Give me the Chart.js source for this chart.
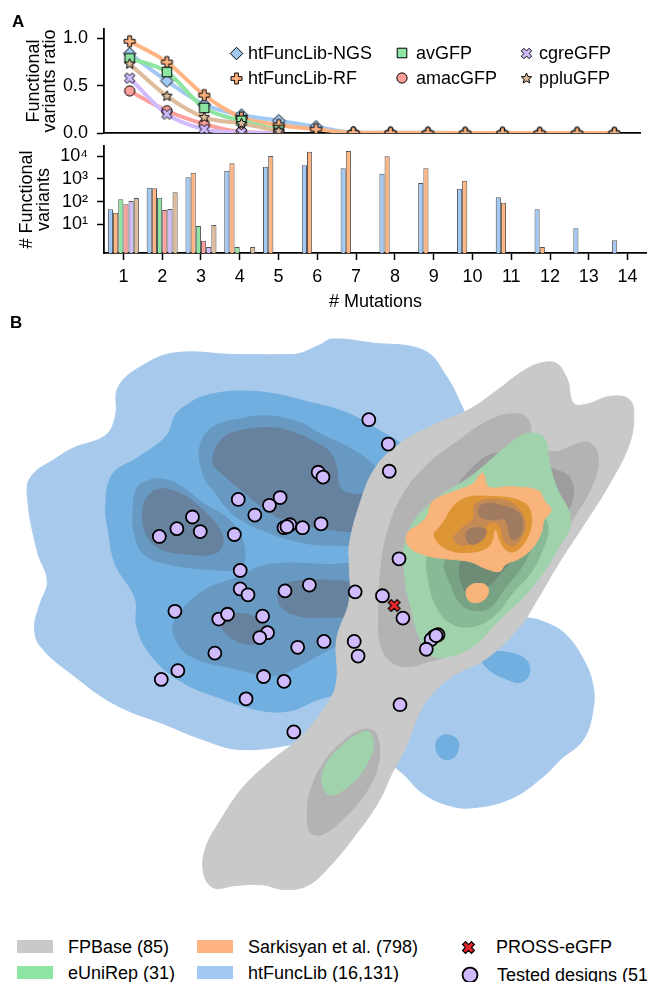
<!DOCTYPE html>
<html>
<head>
<meta charset="utf-8">
<script src="https://cdn.jsdelivr.net/npm/chart.js@4.4.1/dist/chart.umd.min.js"></script>
<style>
  body { margin: 0; background: #fff; }
  #page { position: relative; width: 647px; height: 982px; overflow: hidden;
          font-family: "Liberation Sans", Arial, Helvetica, sans-serif; color: #000; }
  #page canvas { position: absolute; left: 0; }
  .lbl { position: absolute; white-space: nowrap; font-size: 18px; line-height: 18px; }
  .panel { font-weight: bold; font-size: 17px; line-height: 17px; }
  .swatch { position: absolute; width: 36px; height: 13px; }
</style>
</head>
<body>
<div id="page">
  <canvas id="ratioChart" width="647" height="140" style="top:0"></canvas>
  <canvas id="countChart" width="647" height="175" style="top:140px"></canvas>
  <canvas id="mapChart" width="647" height="605" style="top:320px"></canvas>
</div>
<script>
/* ================= DATA: panel A ================= */

const mutations = [1, 2, 3, 4, 5, 6, 7, 8, 9, 10, 11, 12, 13, 14];
const ratioTicks = [0, 0.5, 1.0];
const countTicks = [10, 100, 1000, 10000];

// functional variants ratio per number of mutations
const ratioNGS  = [0.84, 0.55, 0.30, 0.19, 0.13, 0.066, 0.006, 0.003, 0.002, 0.001, 0.001, 0.0005, 0.0002, 0.0001];
const ratioRF   = [0.97, 0.75, 0.40, 0.165, 0.085, 0.04, 0.004, 0.002, 0.001, 0.0005, 0.0002, 0.0001, 0, 0];
const ratioAv   = [0.79, 0.645, 0.265, 0.13, 0.03];
const ratioAmac = [0.445, 0.235, 0.095, 0.01, 0];
const ratioCgre = [0.58, 0.20, 0.04, 0.005, 0];
const ratioPplu = [0.73, 0.39, 0.165, 0.10, 0.02];

// number of functional variants per number of mutations
const countNGS  = [46, 414, 1186, 2320, 3470, 4000, 2960, 1710, 665, 373, 156, 46, 6.7, 2];
const countRF   = [33, 389, 1897, 4900, 10300, 15900, 17000, 10000, 2960, 841, 90, 1, null, null];
const countAv   = [128, 150, 8.5, 1, null, null, null, null, null, null, null, null, null, null];
const countAmac = [77, 43, 1.9, null, null, null, null, null, null, null, null, null, null, null];
const countCgre = [107, 48, 1, null, null, null, null, null, null, null, null, null, null, null];
const countPplu = [145, 258, 9.4, 1, null, null, null, null, null, null, null, null, null, null];

/* ================= DATA: panel B (2D embedding) ================= */

const designs = [
  [370,414],[390,439],[391,467],[318,468],[323,473],[236,496],[268,502],[279,494],[253,512],
  [189,514],[173,526],[197,529],[155,534],[232,532],[283,525],[289,522],[302,525],[321,521],
  [401,557],[238,569],[238,588],[246,594],[284,590],[309,584],[356,591],[384,595],[405,618],
  [171,611],[216,619],[225,614],[261,616],[266,633],[258,638],[297,648],[324,642],[355,642],
  [359,657],[441,635],[437,637],[434,640],[429,650],[212,654],[174,672],[157,681],[262,678],
  [283,683],[244,701],[402,707],[293,735],[286,524],[439,636]
];
const prossEGFP = [[396,605]];

// htFuncLib density levels
const htOuter = [[233,347],[293,347],[320,337],[332,331],[373,335],[427,343],[450,370],[464,397],[478,430],
  [495,500],[515,580],[530,615],[545,620],[570,633],[590,660],[600,687],[600,713],[590,743],[567,763],
  [550,780],[517,803],[477,813],[450,810],[424,797],[404,777],[380,760],[320,738],[290,748],[237,753],
  [200,743],[160,727],[110,707],[67,677],[33,647],[27,627],[32,605],[40,580],[30,550],[20,497],[23,473],
  [50,453],[67,443],[100,430],[110,410],[113,380],[140,357],[173,345]];
const htMid = [[173,407],[200,390],[253,385],[317,398],[350,408],[384,427],[404,440],[425,470],[410,550],
  [375,640],[345,690],[330,698],[317,702],[290,713],[260,713],[217,700],[177,683],[147,657],[132,627],
  [130,597],[110,563],[103,530],[100,503],[107,470],[133,453],[163,430]];
const htHighA = [[133,483],[150,475],[173,480],[200,500],[227,517],[240,537],[242,560],[233,568],[207,568],
  [167,563],[140,553],[130,533],[128,510]];
const htHighB = [[213,420],[260,410],[300,417],[317,427],[350,443],[377,463],[400,500],[375,538],[330,543],
  [300,540],[267,530],[233,513],[213,490],[200,470],[197,440]];
const htHighC = [[200,590],[233,577],[267,563],[330,563],[360,565],[390,600],[375,640],[337,647],[317,657],
  [293,670],[273,677],[233,670],[187,657],[170,635],[173,617]];
const htTopA = [[157,485],[177,490],[200,507],[217,527],[220,543],[210,552],[183,552],[157,547],[142,533],
  [138,510],[143,493]];
const htTopB = [[240,425],[267,422],[293,427],[320,440],[330,447],[337,463],[340,483],[350,490],[377,493],
  [390,510],[367,527],[330,527],[283,517],[260,503],[240,487],[220,470],[210,457],[220,433]];
const htTopC = [[290,581],[330,579],[357,583],[385,595],[380,612],[357,616],[320,617],[299,616],[280,606],
  [278,590]];
const htTopD = [[228,614],[245,614],[260,622],[268,632],[263,641],[247,645],[233,641],[222,632],[218,622]];
const htLobeA = [[500,652],[520,655],[533,663],[534,677],[525,684],[510,680],[492,670],[484,655]];
const htLobeB = [[450,738],[460,742],[462,752],[456,762],[445,762],[439,752],[441,742]];

// FPBase density levels
const fpOuter = [[564,357],[574,373],[580,397],[594,398],[617,390],[637,393],[642,410],[637,440],[617,480],
  [590,523],[564,563],[544,597],[524,628],[490,660],[457,677],[434,697],[420,720],[407,753],[394,777],
  [380,807],[357,840],[330,873],[307,893],[283,897],[260,892],[233,893],[210,895],[200,878],[203,853],
  [217,827],[240,793],[267,767],[300,740],[327,707],[337,683],[337,640],[350,600],[350,563],[350,543],
  [360,503],[377,463],[404,437],[440,418],[474,403],[500,385],[530,363],[550,355]];
const fpMidA = [[534,415],[537,430],[557,447],[594,437],[605,450],[600,480],[577,520],[550,563],[524,597],
  [505,618],[480,640],[450,657],[430,663],[410,668],[392,662],[382,645],[380,613],[382,570],[389,530],
  [404,493],[427,463],[460,437],[497,413],[524,408]];
const fpMidB = [[376,735],[381,750],[378,775],[365,800],[345,823],[323,840],[310,838],[307,815],[312,790],
  [325,765],[343,745],[362,733]];
const fpHigh = [[490,452],[505,448],[520,450],[540,455],[560,465],[575,472],[580,490],[572,510],[550,530],
  [500,545],[470,540],[455,510],[460,485],[470,470]];

// eUniRep density levels
const euOuter = [[550,433],[555,457],[562,482],[577,517],[564,547],[537,587],[504,620],[477,647],[450,658],
  [434,656],[422,638],[414,610],[407,575],[410,530],[437,497],[474,473],[517,437],[534,428]];
const euLow = [[370,735],[375,747],[367,770],[350,790],[330,800],[322,787],[327,767],[344,748],[360,737]];
const euMid = [[440,540],[480,528],[520,515],[547,513],[554,525],[550,543],[537,570],[517,593],[497,617],
  [474,627],[454,623],[440,607],[432,583],[430,555]];
const euHigh = [[470,545],[537,535],[530,560],[510,587],[494,607],[477,610],[464,603],[454,583],[448,560]];
const euTop = [[490,548],[522,548],[507,570],[490,587],[477,593],[467,587],[465,560]];

// Sarkisyan et al. density levels
const skOuter = [[487,469],[492,483],[517,483],[544,487],[550,497],[557,507],[550,517],[547,530],[537,547],
  [524,557],[510,563],[504,570],[490,567],[474,560],[450,557],[427,553],[410,543],[410,530],[420,523],
  [430,513],[434,500],[444,493],[460,487],[477,480],[483,472]];
const skBlob = [[477,583],[488,583],[493,590],[487,600],[474,601],[470,590]];
const skMid = [[444,523],[464,497],[497,493],[530,500],[537,517],[530,540],[517,550],[507,543],[500,527],
  [494,543],[477,550],[450,547],[437,533]];
const skHigh = [[464,527],[477,517],[480,500],[510,497],[527,510],[530,527],[520,543],[510,540],[504,523],
  [494,520],[480,537],[467,543],[457,537]];
const skTopA = [[497,500],[524,510],[527,530],[517,537],[510,517],[497,517],[484,513],[484,503]];
const skTopB = [[480,525],[490,527],[487,537],[474,542],[470,530]];

/* ================= STYLE ================= */

const FONT = '"Liberation Sans", Arial, Helvetica, sans-serif';
const PASTEL = {
  blue: '#a1c9f4', orange: '#ffb482', green: '#8de5a1',
  red: '#ff9f9b', purple: '#d0bbff', tan: '#debb9b'
};
const AXIS = { color: '#000', width: 1.8 };
const page = document.getElementById('page');

Chart.defaults.font.family = FONT;
Chart.defaults.font.size = 18;
Chart.defaults.color = '#000';

/* ================= HELPERS ================= */

function makeMarker(kind, fill, size, edge = 1) {
  const c = document.createElement('canvas');
  c.width = c.height = Math.ceil(size + 4);
  const g = c.getContext('2d');
  const m = c.width / 2, r = size / 2;
  g.beginPath();
  if (kind === 'diamond') {
    g.moveTo(m, m - r); g.lineTo(m + r, m); g.lineTo(m, m + r); g.lineTo(m - r, m);
  } else if (kind === 'square') {
    g.rect(m - r * 0.8, m - r * 0.8, r * 1.6, r * 1.6);
  } else if (kind === 'circle') {
    g.arc(m, m, r * 0.85, 0, Math.PI * 2);
  } else if (kind === 'plus' || kind === 'x') {
    const a = r / 3;
    const pts = [[-a,-r],[a,-r],[a,-a],[r,-a],[r,a],[a,a],[a,r],[-a,r],[-a,a],[-r,a],[-r,-a],[-a,-a]];
    const rot = kind === 'x' ? Math.PI / 4 : 0;
    pts.forEach(([x, y], i) => {
      const X = m + x * Math.cos(rot) - y * Math.sin(rot);
      const Y = m + x * Math.sin(rot) + y * Math.cos(rot);
      i ? g.lineTo(X, Y) : g.moveTo(X, Y);
    });
  } else if (kind === 'star') {
    for (let i = 0; i < 10; i++) {
      const ang = -Math.PI / 2 + i * Math.PI / 5;
      const rr = i % 2 ? r * 0.45 : r;
      const X = m + rr * Math.cos(ang), Y = m + rr * Math.sin(ang);
      i ? g.lineTo(X, Y) : g.moveTo(X, Y);
    }
  }
  g.closePath();
  g.fillStyle = fill; g.fill();
  g.lineWidth = edge; g.strokeStyle = '#000'; g.stroke();
  return c;
}

function addText(txt, x, baseline, cls = '', size = 18) {
  const d = document.createElement('div');
  d.className = 'lbl ' + cls;
  d.textContent = txt;
  d.style.left = x + 'px';
  d.style.top = (baseline - 0.847 * size) + 'px';
  page.appendChild(d);
}

function addIcon(src, cx, cy) {
  const c = document.createElement('canvas');
  c.width = src.width; c.height = src.height;
  c.getContext('2d').drawImage(src, 0, 0);
  c.style.left = (cx - src.width / 2) + 'px';
  c.style.top = (cy - src.height / 2) + 'px';
  page.appendChild(c);
}

function addSwatch(color, x, y) {
  const d = document.createElement('div');
  d.className = 'swatch';
  d.style.left = x + 'px'; d.style.top = y + 'px'; d.style.background = color;
  page.appendChild(d);
}

const xy = arr => arr.map((v, i) => (v === null ? null : { x: mutations[i], y: v })).filter(Boolean);
const loop = pts => pts.concat([pts[0], pts[1]]).map(([x, y]) => ({ x, y }));
const SUP = { 1: '\u00b9', 2: '\u00b2', 3: '\u00b3', 4: '\u2074' };

/* ================= PANEL A: RATIO ================= */

const ratioSeries = [
  { label: 'htFuncLib-NGS', data: ratioNGS,  color: PASTEL.blue,   marker: makeMarker('diamond', PASTEL.blue, 12.5) },
  { label: 'htFuncLib-RF',  data: ratioRF,   color: PASTEL.orange, marker: makeMarker('plus', PASTEL.orange, 11) },
  { label: 'avGFP',         data: ratioAv,   color: PASTEL.green,  marker: makeMarker('square', PASTEL.green, 12) },
  { label: 'amacGFP',       data: ratioAmac, color: PASTEL.red,    marker: makeMarker('circle', PASTEL.red, 12) },
  { label: 'cgreGFP',       data: ratioCgre, color: PASTEL.purple, marker: makeMarker('x', PASTEL.purple, 11) },
  { label: 'ppluGFP',       data: ratioPplu, color: PASTEL.tan,    marker: makeMarker('star', PASTEL.tan, 11) }
];
const clipA = { left: 12, top: 12, right: 12, bottom: 0 };

new Chart(document.getElementById('ratioChart'), {
  type: 'scatter',
  data: {
    datasets: [
      ...ratioSeries.map((s, i) => ({
        data: xy(s.data), showLine: true, borderColor: s.color, borderWidth: 4,
        pointRadius: 0, cubicInterpolationMode: 'monotone', order: 100 - i, clip: clipA
      })),
      ...ratioSeries.map((s, i) => ({
        label: s.label, data: xy(s.data), showLine: false, pointStyle: s.marker,
        pointRadius: 6, order: 20 - i, clip: clipA
      }))
    ]
  },
  options: {
    responsive: false, animation: false,
    layout: { padding: { top: 29, right: 0, bottom: 0, left: 0 } },
    plugins: { legend: { display: false }, tooltip: { enabled: false } },
    scales: {
      x: {
        type: 'linear', min: 0.312, max: 14.689,
        ticks: { display: false }, grid: { display: false }, border: AXIS,
        afterFit: s => { s.height = 6; s.paddingLeft = 0; s.paddingRight = 0; }
      },
      y: {
        min: 0, max: 1.1,
        afterBuildTicks: s => { s.ticks = ratioTicks.map(v => ({ value: v })); },
        ticks: { padding: 9, callback: v => Number(v).toFixed(1) },
        grid: { drawOnChartArea: false, tickLength: 7, color: '#000', tickWidth: 1.5 },
        border: AXIS,
        title: { display: true, text: ['Functional', 'variants ratio'],
                 font: { size: 18, lineHeight: 0.93 }, padding: { top: 25.4, bottom: 0 } },
        afterFit: s => { s.width = 104; s.paddingTop = 0; s.paddingBottom = 0; }
      }
    }
  }
});

/* ================= PANEL A: COUNTS ================= */

const countSeries = [
  { label: 'htFuncLib-NGS', data: countNGS,  color: PASTEL.blue },
  { label: 'htFuncLib-RF',  data: countRF,   color: PASTEL.orange },
  { label: 'avGFP',         data: countAv,   color: PASTEL.green },
  { label: 'amacGFP',       data: countAmac, color: PASTEL.red },
  { label: 'cgreGFP',       data: countCgre, color: PASTEL.purple },
  { label: 'ppluGFP',       data: countPplu, color: PASTEL.tan }
];

new Chart(document.getElementById('countChart'), {
  type: 'bar',
  data: {
    labels: mutations.map(String),
    datasets: countSeries.map(s => ({
      label: s.label, data: s.data, backgroundColor: s.color,
      borderColor: 'rgba(55,55,55,0.85)', borderWidth: 1,
      categoryPercentage: 0.8, barPercentage: 1.0
    }))
  },
  options: {
    responsive: false, animation: false,
    layout: { padding: { top: 6, right: 0, bottom: 0, left: 0 } },
    plugins: { legend: { display: false }, tooltip: { enabled: false } },
    scales: {
      x: {
        grid: { offset: false, drawOnChartArea: false, tickLength: 7, color: '#000', tickWidth: 1.5 },
        border: AXIS,
        ticks: { padding: 6, maxRotation: 0, autoSkip: false },
        title: { display: true, text: '# Mutations', font: { size: 18 }, padding: { top: 0, bottom: 2.2 } },
        afterFit: s => { s.height = 62; s.paddingLeft = 0; s.paddingRight = 0; }
      },
      y: {
        type: 'logarithmic', min: 0.55, max: 28400,
        afterBuildTicks: s => { s.ticks = countTicks.map(v => ({ value: v })); },
        ticks: { padding: 9, callback: v => '10' + SUP[Math.round(Math.log10(v))] },
        grid: { drawOnChartArea: false, tickLength: 7, color: '#000', tickWidth: 1.5 },
        border: AXIS,
        title: { display: true, text: ['# Functional', 'variants'],
                 font: { size: 18, lineHeight: 0.93 }, padding: { top: 18.8, bottom: 0 } },
        afterFit: s => { s.width = 104; s.paddingTop = 0; s.paddingBottom = 0; }
      }
    }
  }
});

/* ================= PANEL B: EMBEDDING ================= */

// bottom to top
const layers = [
  [htOuter, '#a6c9ec'], [htMid, '#70afe0'],
  [htHighA, '#6899c3'], [htHighB, '#6899c3'], [htHighC, '#6899c3'],
  [htTopA, '#67829e'], [htTopB, '#67829e'], [htTopC, '#67829e'], [htTopD, '#67829e'],
  [htLobeA, '#70afe0'], [htLobeB, '#70afe0'],
  [fpOuter, '#c9c9c9'], [fpMidA, '#b3b3b3'], [fpMidB, '#b3b3b3'], [fpHigh, '#9d9d9d'],
  [euOuter, '#a0d3ac'], [euLow, '#a0d3ac'], [euMid, '#88bb95'], [euHigh, '#77a284'], [euTop, '#6e8b75'],
  [skOuter, '#f8b47b'], [skBlob, '#f8b47b'], [skMid, '#dd9535'], [skHigh, '#c48a55'],
  [skTopA, '#a07b60'], [skTopB, '#a07b60']
];

const prossMarker = makeMarker('x', '#e8282b', 12.5, 1.2);
const designColor = '#d0bbff';

new Chart(document.getElementById('mapChart'), {
  type: 'scatter',
  data: {
    datasets: [
      ...layers.map(([pts, col], i) => ({
        data: loop(pts), showLine: true, fill: 'shape', backgroundColor: col,
        borderColor: col, borderWidth: 1, pointRadius: 0, tension: 0.4, order: 1000 - i, clip: false
      })),
      {
        label: 'Tested designs (51)', data: designs.map(([x, y]) => ({ x, y })), showLine: false,
        pointStyle: 'circle', pointRadius: 6.5, pointBackgroundColor: designColor,
        pointBorderColor: '#000', pointBorderWidth: 1.8, order: 1
      },
      {
        label: 'PROSS-eGFP', data: prossEGFP.map(([x, y]) => ({ x, y })), showLine: false,
        pointStyle: prossMarker, pointRadius: 6, order: 0
      }
    ]
  },
  options: {
    responsive: false, animation: false,
    layout: { padding: 0 },
    plugins: { legend: { display: false }, tooltip: { enabled: false } },
    scales: {
      x: { type: 'linear', min: 0, max: 647, display: false },
      y: { type: 'linear', min: 320, max: 925, reverse: true, display: false }
    }
  }
});

/* ================= LABELS & LEGENDS ================= */

addText('A', 12, 27, 'panel', 17);
addText('B', 10, 328, 'panel', 17);

// panel A legend (3 columns x 2 rows)
const legendCols = [[236, 248], [402, 416], [526, 539]];
const legendRows = [53, 78];
const legendOrder = [0, 2, 4, 1, 3, 5];
legendOrder.forEach((si, k) => {
  const col = legendCols[k % 3], row = legendRows[Math.floor(k / 3)];
  addIcon(ratioSeries[si].marker, col[0], row);
  addText(ratioSeries[si].label, col[1], row + 6.4);
});

// panel B legend
addSwatch('#c9c9c9', 17, 940); addText('FPBase (85)', 68, 953);
addSwatch(PASTEL.green, 17, 966); addText('eUniRep (31)', 68, 979);
addSwatch(PASTEL.orange, 197, 940); addText('Sarkisyan et al. (798)', 248, 953);
addSwatch(PASTEL.blue, 197, 966); addText('htFuncLib (16,131)', 248, 979);
addIcon(prossMarker, 468, 947); addText('PROSS-eGFP', 496, 953);
const designIcon = makeMarker('circle', designColor, 17.5, 1.8);
addIcon(designIcon, 470, 975); addText('Tested designs (51)', 497, 981);
</script>
</body>
</html>
